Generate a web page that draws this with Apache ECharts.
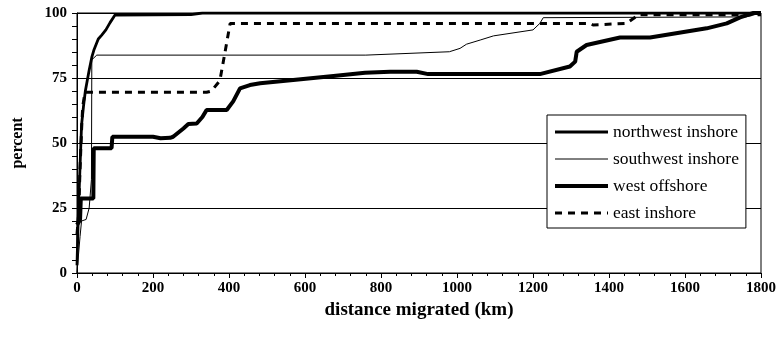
<!DOCTYPE html>
<html>
<head>
<meta charset="utf-8">
<script src="https://cdn.jsdelivr.net/npm/echarts@6/dist/echarts.min.js"></script>
<style>
  html, body { margin: 0; padding: 0; background: #fff; }
  #chart { width: 780px; height: 348px; }
</style>
</head>
<body>
<div id="chart"></div>
<script>
  // distance migrated (km) vs cumulative percent
  var northwestInshore = [[0, 3], [3, 20], [6, 33], [9, 45], [12, 57], [17, 64], [22, 70], [27, 74], [32, 78],
    [39, 83], [45, 86], [56, 90], [65, 91.5], [76, 93.5], [87, 96.3], [100, 99.2], [300, 99.4], [330, 100], [1800, 100]];
  var southwestInshore = [[0, 0], [1, 2], [8, 14], [12, 20], [24, 20.6], [32, 25], [38, 36], [39, 82], [52, 83.8],
    [760, 83.8], [980, 85.1], [1008, 86.4], [1025, 88], [1061, 89.6], [1096, 91.2], [1200, 93.5], [1218, 96],
    [1227, 98.2], [1760, 98.5], [1800, 100]];
  var westOffshore = [[0, 18.5], [8, 20.4], [10, 28.7], [43, 28.7], [44, 48], [91, 48], [93, 52.4], [200, 52.4],
    [220, 51.8], [245, 52], [253, 52.4], [280, 55.6], [293, 57.3], [315, 57.5], [330, 60], [341, 62.7], [394, 62.7],
    [411, 66], [429, 71], [455, 72.3], [482, 73], [569, 74.2], [675, 75.8], [758, 77], [824, 77.4], [894, 77.4],
    [924, 76.5], [1218, 76.5], [1297, 79.4], [1311, 81.3], [1315, 85.1], [1341, 87.7], [1429, 90.6], [1508, 90.6],
    [1657, 94.1], [1710, 96], [1745, 98.3], [1780, 100], [1800, 100]];
  var eastInshore = [[0, 15], [4, 22], [8, 40], [12, 55], [15, 64], [21, 69.5], [341, 69.5], [354, 70], [376, 74],
    [389, 84.5], [403, 96], [1350, 96], [1358, 95.4], [1446, 96], [1468, 98.3], [1475, 99.3], [1800, 99.3]];

  var seriesNames = ['northwest inshore', 'southwest inshore', 'west offshore', 'east inshore'];
  var xTicks = [0, 1800, 200];
  var yTicks = [0, 100, 25];

  var font = 'Liberation Serif';
  var chart = echarts.init(document.getElementById('chart'));

  function lineSeries(name, data, width, type) {
    return {
      name: name,
      type: 'line',
      data: data,
      symbol: 'none',
      lineStyle: { color: '#000', width: width, type: type || 'solid' },
      itemStyle: { color: '#000' }
    };
  }

  var option = {
    animation: false,
    backgroundColor: '#fff',
    grid: {
      left: 77, right: 19, top: 13, bottom: 75,
      show: true, borderColor: '#000', borderWidth: 1
    },
    legend: {
      data: seriesNames,
      orient: 'vertical',
      left: 547, top: 115,
      itemWidth: 53, itemHeight: 14, itemGap: 9,
      padding: [8, 7, 6, 6],
      borderColor: '#000', borderWidth: 1,
      backgroundColor: '#fff',
      itemStyle: { opacity: 0 },
      lineStyle: { width: 'inherit', type: 'inherit' },
      textStyle: { fontFamily: font, fontSize: 17.5, color: '#000' }
    },
    xAxis: {
      type: 'value',
      min: xTicks[0], max: xTicks[1], interval: xTicks[2],
      name: 'distance migrated (km)',
      nameLocation: 'middle', nameGap: 17,
      nameTextStyle: { fontFamily: font, fontSize: 19, fontWeight: 'bold', color: '#000' },
      axisLine: { lineStyle: { color: '#000', width: 1 } },
      axisTick: { length: 5, lineStyle: { color: '#000' } },
      minorTick: { show: true, splitNumber: 5, length: 3, lineStyle: { color: '#000' } },
      splitLine: { show: false },
      axisLabel: {
        fontFamily: font, fontSize: 15, fontWeight: 'bold', color: '#000', margin: 8,
        formatter: function (v) { return String(v); }
      }
    },
    yAxis: {
      type: 'value',
      min: yTicks[0], max: yTicks[1], interval: yTicks[2],
      name: 'percent',
      nameLocation: 'middle', nameGap: 51,
      nameTextStyle: { fontFamily: font, fontSize: 16, fontWeight: 'bold', color: '#000' },
      axisLine: { show: true, lineStyle: { color: '#000', width: 1 } },
      axisTick: { show: true, length: 5, lineStyle: { color: '#000' } },
      minorTick: { show: true, splitNumber: 5, length: 5, lineStyle: { color: '#000' } },
      splitLine: { show: true, lineStyle: { color: '#000', width: 1 } },
      axisLabel: {
        fontFamily: font, fontSize: 15, fontWeight: 'bold', color: '#000', margin: 10,
        formatter: function (v) { return String(v); }
      }
    },
    series: [
      lineSeries(seriesNames[0], northwestInshore, 2.8),
      lineSeries(seriesNames[1], southwestInshore, 1),
      lineSeries(seriesNames[2], westOffshore, 4),
      lineSeries(seriesNames[3], eastInshore, 3, [7, 6])
    ]
  };
  chart.setOption(option);
</script>
</body>
</html>
